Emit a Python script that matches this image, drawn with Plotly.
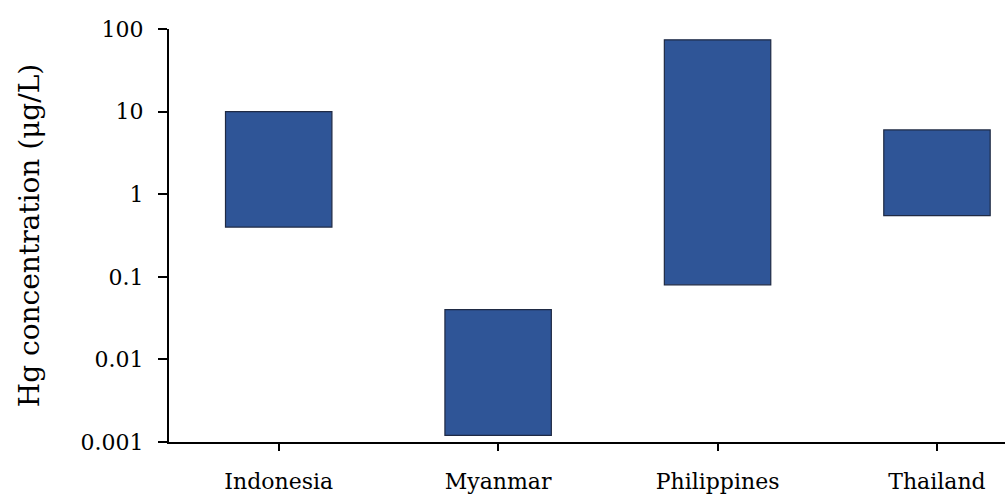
import plotly.graph_objects as go

# Hg concentration ranges by country (µg/L)
countries = ["Indonesia", "Myanmar", "Philippines", "Thailand"]
hg_min = [0.4, 0.0012, 0.08, 0.55]
hg_max = [10, 0.04, 74, 6]
y_ticks = [0.001, 0.01, 0.1, 1, 10, 100]
y_tick_labels = ["0.001", "0.01", "0.1", "1", "10", "100"]

FONT = "DejaVu Serif, serif"

fig = go.Figure(
    go.Bar(
        x=countries,
        base=hg_min,
        y=[hi - lo for lo, hi in zip(hg_min, hg_max)],
        width=0.485,
        marker=dict(color="#2F5597", line=dict(color="#1F2A44", width=1.2)),
        hoverinfo="skip",
    )
)

fig.update_layout(
    width=1005,
    height=496,
    margin=dict(l=169, r=0, t=29, b=54),
    paper_bgcolor="white",
    plot_bgcolor="white",
    showlegend=False,
    font=dict(family=FONT, size=22, color="black"),
)

fig.update_xaxes(
    type="category",
    range=[-0.5, 3.31],
    showline=True,
    linecolor="black",
    linewidth=2,
    ticks="outside",
    ticklen=7,
    tickwidth=2,
    tickcolor="black",
    showgrid=False,
    ticklabelstandoff=12,
    tickfont=dict(family=FONT, size=22),
)

fig.update_yaxes(
    type="log",
    range=[-3, 2],
    tickvals=y_ticks,
    ticktext=y_tick_labels,
    showline=True,
    linecolor="black",
    linewidth=2,
    ticks="outside",
    ticklen=9,
    tickwidth=2,
    tickcolor="black",
    showgrid=False,
    zeroline=False,
    ticklabelstandoff=10,
    tickfont=dict(family=FONT, size=22),
    title=dict(text="Hg concentration (μg/L)", font=dict(family=FONT, size=28), standoff=33),
)

fig.write_html("out.html")
